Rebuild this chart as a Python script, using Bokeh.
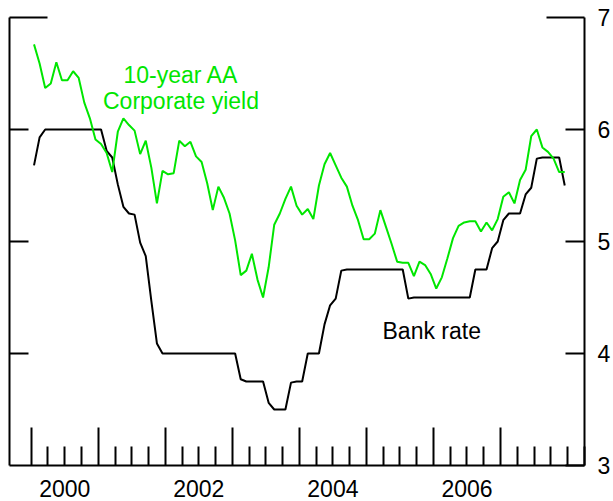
from bokeh.plotting import figure
from bokeh.models import LinearAxis, FixedTicker, Range1d, Label, CustomJSTickFormatter
from bokeh.embed import file_html
from bokeh.resources import INLINE

# ---------------- data (monthly averages, Jan 2000 - Dec 2007) ----------------
months = [f"{y}-{m:02d}" for y in range(2000, 2008) for m in range(1, 13)]

bank_rate = [
    5.68, 5.93, 6.00, 6.00, 6.00, 6.00, 6.00, 6.00, 6.00, 6.00, 6.00, 6.00,   # 2000
    6.00, 5.81, 5.75, 5.51, 5.31, 5.25, 5.24, 4.99, 4.87, 4.47, 4.09, 4.00,   # 2001
    4.00, 4.00, 4.00, 4.00, 4.00, 4.00, 4.00, 4.00, 4.00, 4.00, 4.00, 4.00,   # 2002
    4.00, 3.77, 3.75, 3.75, 3.75, 3.75, 3.56, 3.50, 3.50, 3.50, 3.74, 3.75,   # 2003
    3.75, 4.00, 4.00, 4.00, 4.26, 4.43, 4.49, 4.74, 4.75, 4.75, 4.75, 4.75,   # 2004
    4.75, 4.75, 4.75, 4.75, 4.75, 4.75, 4.75, 4.49, 4.50, 4.50, 4.50, 4.50,   # 2005
    4.50, 4.50, 4.50, 4.50, 4.50, 4.50, 4.50, 4.75, 4.75, 4.75, 4.94, 5.00,   # 2006
    5.19, 5.25, 5.25, 5.25, 5.42, 5.48, 5.74, 5.75, 5.75, 5.75, 5.75, 5.50,   # 2007
]

aa_yield = [
    6.76, 6.59, 6.37, 6.41, 6.60, 6.44, 6.44, 6.52, 6.46, 6.24, 6.10, 5.91,   # 2000
    5.87, 5.79, 5.62, 5.98, 6.10, 6.04, 5.99, 5.78, 5.90, 5.66, 5.34, 5.63,   # 2001
    5.60, 5.61, 5.90, 5.85, 5.89, 5.76, 5.71, 5.52, 5.28, 5.49, 5.39, 5.25,   # 2002
    5.01, 4.70, 4.74, 4.89, 4.66, 4.50, 4.77, 5.15, 5.25, 5.38, 5.49, 5.32,   # 2003
    5.24, 5.29, 5.20, 5.50, 5.69, 5.79, 5.68, 5.57, 5.49, 5.32, 5.19, 5.02,   # 2004
    5.02, 5.07, 5.28, 5.13, 4.98, 4.82, 4.81, 4.81, 4.69, 4.82, 4.79, 4.71,   # 2005
    4.58, 4.68, 4.85, 5.03, 5.14, 5.17, 5.18, 5.18, 5.09, 5.17, 5.10, 5.20,   # 2006
    5.40, 5.44, 5.34, 5.55, 5.64, 5.94, 6.00, 5.84, 5.80, 5.74, 5.62, 5.62,   # 2007
]

year_labels = ["2000", "2002", "2004", "2006"]
year_ticks = [2000, 2001, 2002, 2003, 2004, 2005, 2006, 2007]
y_ticks = [3, 4, 5, 6, 7]

series_names = ["10-year AA", "Corporate yield", "Bank rate"]

# month -> fractional year (mid-month)
x = [int(s[:4]) + (int(s[5:]) - 0.5) / 12 for s in months]

GREEN = "#00e600"
FONT = "Liberation Sans"
FS = "23px"

p = figure(frame_width=575, frame_height=448,
           x_range=Range1d(1999.676, 2008.253), y_range=Range1d(3, 7),
           x_axis_type=None, y_axis_type=None,
           output_backend="svg", toolbar_location=None,
           min_border_left=9, min_border_right=29, min_border_top=17, min_border_bottom=36)
p.outline_line_color = None
p.background_fill_color = "white"
p.border_fill_color = "white"

BLANK = CustomJSTickFormatter(code="return '';")

# ---------------- axes ----------------
def tick_axis(ticks, minor, major_len, minor_len):
    return LinearAxis(ticker=FixedTicker(ticks=ticks, minor_ticks=minor),
                      formatter=BLANK,
                      major_tick_in=major_len, major_tick_out=0,
                      minor_tick_in=minor_len, minor_tick_out=0,
                      major_label_text_font_size="1px", major_label_standoff=0,
                      axis_line_color="black", axis_line_width=2,
                      major_tick_line_color="black", major_tick_line_width=2,
                      minor_tick_line_color="black", minor_tick_line_width=2)

def label_axis(ticks, standoff, formatter=None):
    kw = {}
    if formatter is not None:
        kw["formatter"] = formatter
    return LinearAxis(ticker=FixedTicker(ticks=ticks, minor_ticks=[]),
                      major_tick_in=0, major_tick_out=0,
                      minor_tick_in=0, minor_tick_out=0,
                      axis_line_color=None,
                      major_label_standoff=standoff,
                      major_label_text_font=FONT, major_label_text_font_size=FS,
                      major_label_text_color="black", **kw)

quarters = [yr + q / 4 for yr in range(2000, 2009) for q in range(4)]
minor_x = [q for q in quarters if q not in year_ticks]

p.add_layout(tick_axis(year_ticks, minor_x, 38, 19), "below")
p.add_layout(label_axis([int(y) + 0.5 for y in year_labels], 14,
                        CustomJSTickFormatter(code="return Math.floor(tick).toString();")), "below")

p.add_layout(tick_axis([y_ticks[-1]], y_ticks[1:-1], 38, 19), "left")
p.add_layout(tick_axis([y_ticks[-1]], y_ticks[:-1], 38, 19), "right")
p.add_layout(label_axis(y_ticks, 13), "right")

# ---------------- lines ----------------
p.line(x, bank_rate, line_color="black", line_width=2)
p.line(x, aa_yield, line_color=GREEN, line_width=2)

# ---------------- labels ----------------
p.add_layout(Label(x=2002.234, y=6.487, text=series_names[0], text_align="center",
                   text_baseline="alphabetic", text_font=FONT, text_font_size=FS,
                   text_color=GREEN))
p.add_layout(Label(x=2002.234, y=6.254, text=series_names[1], text_align="center",
                   text_baseline="alphabetic", text_font=FONT, text_font_size=FS,
                   text_color=GREEN))
p.add_layout(Label(x=2005.24, y=4.204, text=series_names[2], text_align="left",
                   text_baseline="alphabetic", text_font=FONT, text_font_size=FS,
                   text_color="black"))

open("out.html", "w").write(file_html(p, INLINE))
